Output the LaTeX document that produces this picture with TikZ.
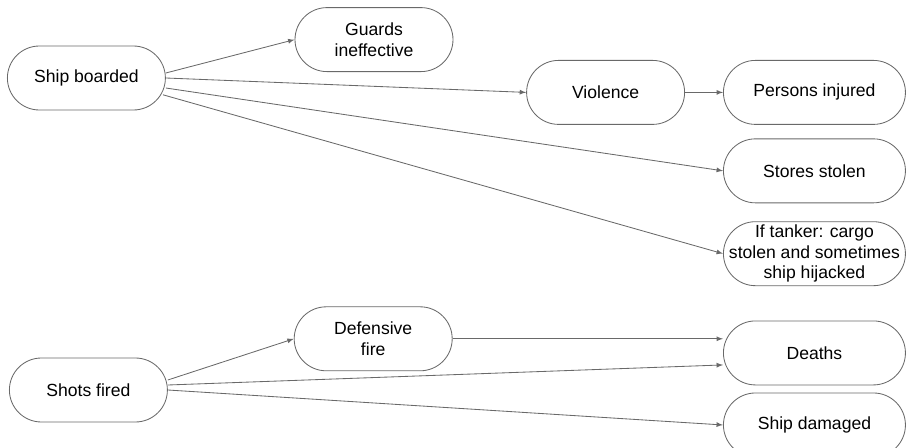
\documentclass[tikz,border=0pt]{standalone}
\usepackage{fontspec}
\setmainfont{Liberation Sans}
\usetikzlibrary{positioning}
\definecolor{linegray}{RGB}{105,105,105}

\begin{document}
\begin{tikzpicture}
    \tikzset{event/.style={
        draw=linegray, line width=0.6pt, rounded corners=0.8cm, align=center, inner sep=0pt,
        minimum width=3.95cm, minimum height=1.6cm, font=\fontsize{12.5}{14.5}\selectfont
      },
      outcome/.style={event, minimum width=4.55cm},
      link/.style={draw=linegray, line width=0.6pt, -latex}
    }
    \useasboundingbox (0,0) rectangle (22.675,-11.2);

    \node[event] (SB) at (2.16,-1.95) {Ship boarded};
    \node[event] (GI) at (9.35,-0.99) {Guards\\ineffective};
    \node[event] (VI) at (15.14,-2.31) {Violence};
    \node[outcome] (PI) [right=0.95cm of VI] {Persons injured};
    \node[outcome] (SS) [below=0.34cm of PI] {Stores stolen};
    \node[outcome] (TA) [below=0.45cm of SS] {If tanker: cargo\\stolen and sometimes\\ship hijacked};

    \node[event] (SF) at (2.21,-9.75) {Shots fired};
    \node[event] (DF) at (9.33,-8.47) {Defensive\\fire};
    \node[outcome] (DE) [below=0.86cm of TA] {Deaths};
    \node[outcome] (DM) [below=0.18cm of DE] {Ship damaged};

    \draw[link] ([yshift=0.125cm]SB.east) -- (GI.west);
    \draw[link] (SB.east) -- (VI.west);
    \draw[link] ([yshift=-0.25cm]SB.east) -- (SS.west);
    \draw[link] ([xshift=-0.07cm,yshift=-0.42cm]SB.east) -- (TA.west);
    \draw[link] (VI) -- (PI);

    \draw[link] ([yshift=0.25cm]SF.east) -- (DF.west);
    \draw[link] (DF.east) -- (DF.east -| DE.west);
    \draw[link] ([yshift=0.125cm]SF.east) -- ([yshift=-0.3cm]DE.west);
    \draw[link] (SF.east) -- (DM.west);
  \end{tikzpicture}
\end{document}
